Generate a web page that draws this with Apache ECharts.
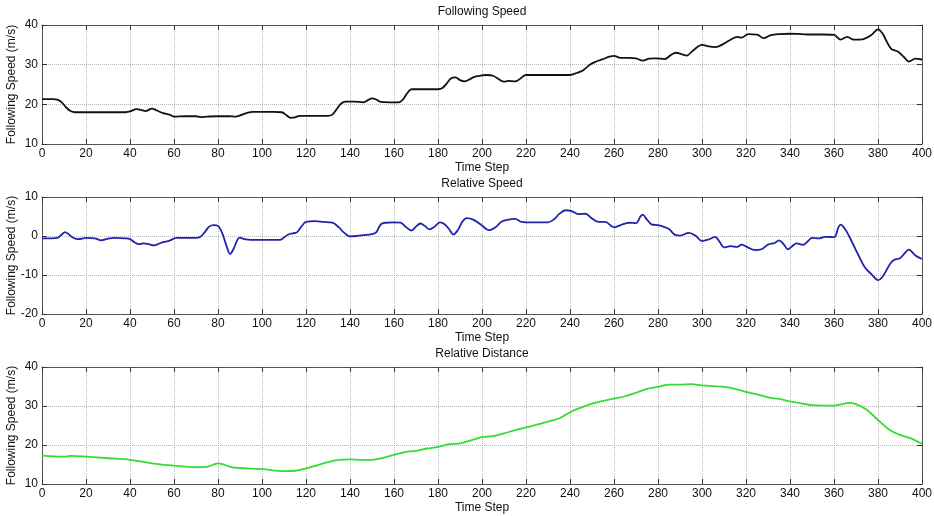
<!DOCTYPE html>
<html>
<head>
<meta charset="utf-8">
<script src="https://cdn.jsdelivr.net/npm/echarts@6/dist/echarts.min.js"></script>
<style>html,body{margin:0;padding:0;background:#fff;}#c{width:934px;height:516px;}</style>
</head>
<body>
<div id="c"></div>
<script>
// ---- Data ----
const panelTitles = ['Following Speed', 'Relative Speed', 'Relative Distance'];
const xAxisName = 'Time Step';
const yAxisName = 'Following Speed (m/s)';
const xTicks = [0, 400, 20];
const yRanges = [[10, 40, 10], [-20, 10, 10], [10, 40, 10]];

const followSteps = [0,5,7,9,11,13,15,20,30,38,40,43,45,47,50,52,55,58,60,65,70,72,75,80,85,88,90,93,96,100,105,109,111,113,115,117,120,125,130,132,134,136,138,142,146,148,150,152,154,158,162,164,166,168,172,180,182,184,186,188,190,192,194,196,198,202,205,208,210,212,215,217,220,230,240,243,246,249,252,255,258,260,263,267,270,273,276,279,283,286,288,291,293,296,300,303,306,310,313,316,318,321,325,328,331,335,340,345,350,355,360,363,366,369,373,377,380,382,384,386,389,392,394,397,400];
const followValues = [21.3,21.3,21.2,20.5,19.2,18.3,18.0,18.0,18.0,18.0,18.2,18.8,18.6,18.3,18.9,18.5,17.8,17.4,16.9,17.0,17.0,16.8,16.9,17.0,17.0,16.9,17.2,17.8,18.1,18.1,18.1,18.0,17.3,16.6,16.7,17.1,17.1,17.1,17.1,17.4,18.8,20.2,20.7,20.7,20.5,21.0,21.5,21.2,20.6,20.5,20.5,21.2,22.8,23.8,23.8,23.8,24.1,25.3,26.6,26.8,26.1,25.8,26.2,26.8,27.1,27.4,27.2,26.2,25.7,25.9,25.8,26.3,27.4,27.4,27.4,27.9,28.6,30.0,30.8,31.4,32.0,32.2,31.7,31.7,31.6,31.0,31.5,31.6,31.4,32.5,33.0,32.6,32.3,33.6,35.0,34.6,34.4,35.3,36.3,37.0,36.8,37.7,37.6,36.7,37.4,37.7,37.8,37.7,37.6,37.6,37.5,36.3,37.0,36.3,36.4,37.5,38.9,37.9,35.8,34.0,33.3,31.8,30.8,31.5,31.3];

const relSpeedSteps = [0,4,7,9,10.5,12,14,16,18,20,24,27,30,33,38,40,42,44,46,48,51,53,55,58,61,65,70,72,74,76,78,80,82,84,85.5,87,89,90,92,95,100,105,108,110,112,114,116,118,120,124,128,132,135,137,140,143,146,150,152,154,156,160,163,165,168,170,172,174,176,178,181,183,185,187,189,191,193,196,200,203,206,209,212,215,218,220,225,230,233,235,238,241,244,247,250,253,256,260,263,267,270,272,273,275,277,280,283,285,288,290,294,297,300,303,306,308,310,313,316,318,321,324,327,330,333,335,337,339,341,343,346,348,350,353,356,360,362,363,365,367,369,371,374,377,380,382,385,387,390,392,394,397,400];
const relSpeedValues = [-0.6,-0.6,-0.5,0.4,1.0,0.5,-0.4,-0.8,-0.7,-0.5,-0.6,-1.1,-0.7,-0.5,-0.6,-0.8,-1.6,-2.1,-1.9,-2.0,-2.4,-2.0,-1.6,-1.2,-0.5,-0.5,-0.5,-0.2,1.0,2.4,2.8,2.6,0.6,-2.8,-4.6,-3.4,-0.8,-0.4,-0.8,-1.0,-1.0,-1.0,-1.0,-0.4,0.4,0.7,1.0,2.5,3.6,3.8,3.6,3.4,2.2,1.0,-0.1,0.0,0.2,0.5,1.0,3.0,3.4,3.5,3.4,2.5,1.4,2.4,3.2,2.6,1.7,2.2,3.5,3.0,1.8,0.4,1.5,3.6,4.6,4.2,2.7,1.5,2.2,3.7,4.2,4.4,3.6,3.5,3.5,3.5,4.4,5.6,6.6,6.3,5.6,5.7,4.5,3.6,3.6,2.2,2.8,3.4,3.3,5.0,5.5,4.2,3.0,2.8,2.3,1.8,0.2,0.1,0.8,0.1,-1.3,-0.9,-0.2,-1.5,-2.9,-2.6,-2.8,-2.2,-3.0,-3.6,-3.4,-2.2,-1.8,-1.1,-2.0,-3.4,-2.6,-1.9,-2.3,-1.4,-0.5,-0.6,-0.2,-0.3,2.2,2.9,1.8,-0.2,-2.5,-4.8,-8.0,-9.8,-11.3,-10.5,-7.6,-6.2,-5.7,-4.5,-3.5,-5.0,-5.9];

const relDistSteps = [0,5,10,13,20,30,40,50,60,70,75,78,80,82,86,90,100,110,115,120,125,130,135,140,145,150,155,160,165,170,175,180,185,190,195,200,205,210,215,220,225,230,235,240,245,250,255,260,265,270,275,280,285,290,295,300,305,310,315,320,325,330,335,340,345,350,355,360,363,367,370,375,380,385,390,395,400];
const relDistValues = [17.3,17.1,17.0,17.2,17.0,16.6,16.2,15.3,14.7,14.3,14.4,15.0,15.3,15.1,14.3,14.1,13.8,13.3,13.4,14.0,14.8,15.6,16.2,16.3,16.2,16.2,16.7,17.5,18.2,18.5,19.1,19.5,20.2,20.4,21.2,22.0,22.3,23.0,23.8,24.5,25.2,26.0,26.8,28.4,29.6,30.6,31.3,31.9,32.5,33.4,34.4,34.9,35.5,35.5,35.6,35.3,35.1,34.9,34.4,33.6,33.0,32.2,31.8,31.2,30.7,30.2,30.1,30.1,30.4,30.8,30.5,29.0,26.4,24.0,22.6,21.7,20.3];

const lineColors = ['#111111', '#2222aa', '#33dd33'];
// ---- Chart ----
const FONT = 'Liberation Sans, Arial, sans-serif';
const tops = [25, 197, 367];
const heights = [119, 117, 117];
const seriesSteps = [followSteps, relSpeedSteps, relDistSteps];
const seriesValues = [followValues, relSpeedValues, relDistValues];

const grids = [], xAxes = [], yAxes = [], series = [], titles = [];
for (let i = 0; i < 3; i++) {
  grids.push({left: 42, width: 880, top: tops[i], height: heights[i], containLabel: false, outerBoundsMode: 'none'});
  titles.push({text: panelTitles[i], left: 482, top: tops[i] - 19, textAlign: 'center', padding: 0,
    textStyle: {fontFamily: FONT, fontSize: 12, fontWeight: 'normal', color: '#111'}});
  const baseX = {type: 'value', gridIndex: i, min: xTicks[0], max: xTicks[1], interval: xTicks[2],
    axisLine: {show: true, onZero: false, lineStyle: {color: '#555', width: 1}},
    axisTick: {show: true, inside: true, length: 5, lineStyle: {color: '#333'}}};
  xAxes.push(Object.assign({}, baseX, {position: 'bottom',
    axisLabel: {show: true, fontFamily: FONT, fontSize: 12, color: '#111', margin: 4},
    name: xAxisName, nameLocation: 'middle', nameGap: 18, nameMoveOverlap: false,
    nameTextStyle: {fontFamily: FONT, fontSize: 12, color: '#111'},
    splitLine: {show: true, lineStyle: {type: 'dotted', color: '#b8b8b8', width: 1}}}));
  xAxes.push(Object.assign({}, baseX, {position: 'top', axisLabel: {show: false}, splitLine: {show: false}}));
  const r = yRanges[i];
  const baseY = {type: 'value', gridIndex: i, min: r[0], max: r[1], interval: r[2],
    axisLine: {show: true, onZero: false, lineStyle: {color: '#555', width: 1}},
    axisTick: {show: true, inside: true, length: 5, lineStyle: {color: '#333'}}};
  yAxes.push(Object.assign({}, baseY, {position: 'left',
    axisLabel: {show: true, fontFamily: FONT, fontSize: 12, color: '#111', margin: 4},
    name: yAxisName, nameLocation: 'middle', nameGap: 24, nameRotate: 90, nameMoveOverlap: false,
    nameTextStyle: {fontFamily: FONT, fontSize: 12, color: '#111'},
    splitLine: {show: true, lineStyle: {type: 'dotted', color: '#b8b8b8', width: 1}}}));
  yAxes.push(Object.assign({}, baseY, {position: 'right', axisLabel: {show: false}, splitLine: {show: false}}));
  series.push({type: 'line', xAxisIndex: 2 * i, yAxisIndex: 2 * i, showSymbol: false, smooth: 0.35,
    animation: false, lineStyle: {color: lineColors[i], width: 1.8},
    data: seriesSteps[i].map((s, k) => [s, seriesValues[i][k]])});
}

const chart = echarts.init(document.getElementById('c'));
chart.setOption({backgroundColor: '#fff', animation: false, title: titles, grid: grids,
  xAxis: xAxes, yAxis: yAxes, series: series});
</script>
</body>
</html>
